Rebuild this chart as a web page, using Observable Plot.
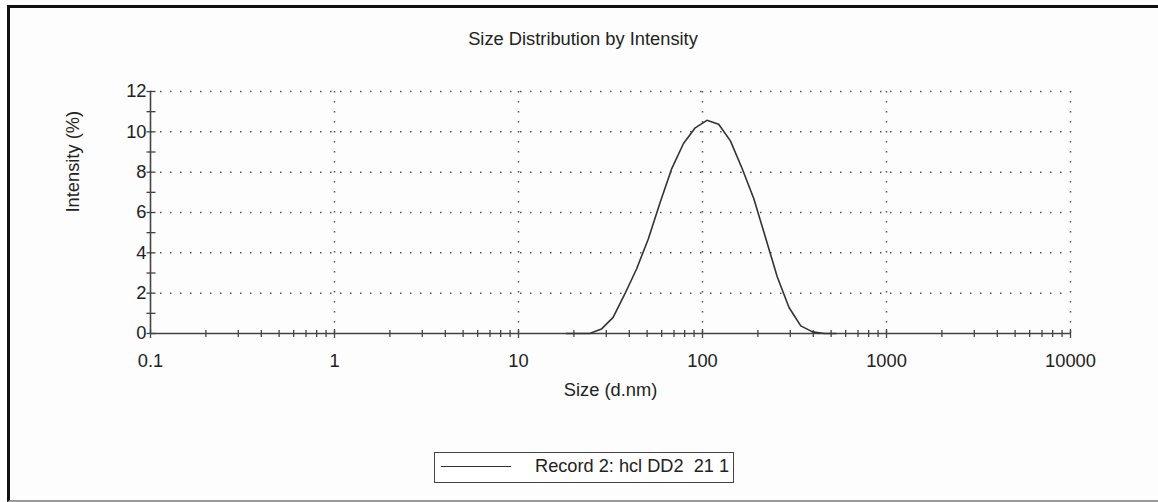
<!DOCTYPE html>
<html>
<head>
<meta charset="utf-8">
<script src="https://cdn.jsdelivr.net/npm/d3@7"></script>
<script src="https://cdn.jsdelivr.net/npm/@observablehq/plot@0.6"></script>
<style>
  html, body { margin: 0; padding: 0; background: #fff; }
  #wrap { position: relative; width: 1158px; height: 502px; overflow: hidden; background: #fdfdfd; font-family: "Liberation Sans", Arial, sans-serif; color: #222; }
  #frame { position: absolute; left: 7px; top: 5px; width: 1200px; height: 492px; border-left: 3px solid #111; border-top: 3px solid #111; border-bottom: 2px solid #999; box-sizing: content-box; }
  #chart { position: absolute; left: 0; top: 0; }
  #title { position: absolute; top: 28px; left: 383px; width: 400px; text-align: center; font-size: 18.3px; white-space: nowrap; }
  #legend { position: absolute; left: 434px; top: 452px; width: 298px; height: 29px; border: 1px solid #444; background: #fff; }
  #legend .sw { position: absolute; left: 6px; top: 13px; width: 70px; border-top: 1.5px solid #333; }
  #legend .lab { position: absolute; left: 100px; top: 3px; font-size: 18.2px; white-space: pre; }
</style>
</head>
<body>
<div id="wrap">
  <div id="frame"></div>
  <div id="chart"></div>
  <div id="title">Size Distribution by Intensity</div>
  <div id="legend"><div class="sw"></div><div class="lab">Record 2: hcl DD2  21 1</div></div>
</div>
<script>
// Size bins (d.nm) and intensity (%)
const sizes = [18.17, 21.04, 24.36, 28.21, 32.67, 37.84, 43.82, 50.75, 58.77, 68.06, 78.82, 91.28, 105.7, 122.4, 141.8, 164.2, 190.1, 220.2, 255.0, 295.3, 342.0, 396.1, 458.7, 531.2];
const intensity = [0, 0, 0, 0.22, 0.80, 1.96, 3.2, 4.69, 6.48, 8.18, 9.42, 10.2, 10.57, 10.38, 9.55, 8.18, 6.68, 4.75, 2.8, 1.29, 0.38, 0.08, 0, 0];

const xMajor = [0.1, 1, 10, 100, 1000, 10000];
const xMinorDigits = [2, 3, 4, 5, 6, 7, 8, 9];
const decades = [0.1, 1, 10, 100, 1000];
const xMinor = decades.flatMap(d => xMinorDigits.map(m => +(d * m).toPrecision(3)));
const yLabels = [0, 2, 4, 6, 8, 10, 12];
const yTicks = [0, 1, 2, 3, 4, 5, 6, 7, 8, 9, 10, 11, 12];
const yGrid = [2, 4, 6, 8, 10, 12];
const xGrid = [1, 10, 100, 1000, 10000];

const data = sizes.map((s, i) => ({size: s, value: intensity[i]}));

// tick glyphs crossing the axis lines
const hTick = {draw(ctx, size) { const l = Math.sqrt(size / Math.PI); ctx.moveTo(-l, 0); ctx.lineTo(l, 0); }};
const vTick = {draw(ctx, size) { const l = Math.sqrt(size / Math.PI); ctx.moveTo(0, -l); ctx.lineTo(0, l); }};

const font = "Liberation Sans, Arial, sans-serif";
const fs = 18.3;
const chart = Plot.plot({
  width: 1158,
  height: 502,
  marginLeft: 150,
  marginRight: 88,
  marginTop: 91,
  marginBottom: 169,
  style: {fontFamily: font, fontSize: fs + "px", color: "#222", background: "transparent", overflow: "visible"},
  x: {type: "log", domain: [0.1, 10000], ticks: xMajor, tickSize: 0, tickPadding: 20, tickFormat: d => String(d), label: null},
  y: {domain: [0, 12], ticks: yLabels, tickSize: 0, tickPadding: 4, label: null},
  marks: [
    Plot.ruleX(xGrid, {stroke: "#555", strokeWidth: 1.5, strokeDasharray: "1.5,8.5"}),
    Plot.ruleY(yGrid, {stroke: "#555", strokeWidth: 1.5, strokeDasharray: "1.5,8.5"}),
    Plot.ruleY([0], {stroke: "#444", strokeWidth: 1.6}),
    Plot.ruleX([0.1], {stroke: "#444", strokeWidth: 1.6}),
    Plot.dot(xMinor, {x: d => d, frameAnchor: "bottom", symbol: vTick, r: 3.5, stroke: "#444", strokeWidth: 1.3, fill: "none"}),
    Plot.dot(xMajor, {x: d => d, frameAnchor: "bottom", symbol: vTick, r: 4.5, stroke: "#444", strokeWidth: 1.3, fill: "none"}),
    Plot.dot(yTicks, {y: d => d, frameAnchor: "left", dx: 0.5, symbol: hTick, r: 4.5, stroke: "#444", strokeWidth: 1.3, fill: "none"}),
    Plot.text(["Size (d.nm)"], {frameAnchor: "bottom", dy: 62, fontSize: fs, fill: "#222"}),
    Plot.text(["Intensity (%)"], {frameAnchor: "left", rotate: -90, dx: -77, fontSize: fs, fill: "#222"}),
    Plot.line(data, {x: "size", y: "value", stroke: "#333", strokeWidth: 1.6})
  ]
});
document.getElementById("chart").appendChild(chart);
</script>
</body>
</html>
